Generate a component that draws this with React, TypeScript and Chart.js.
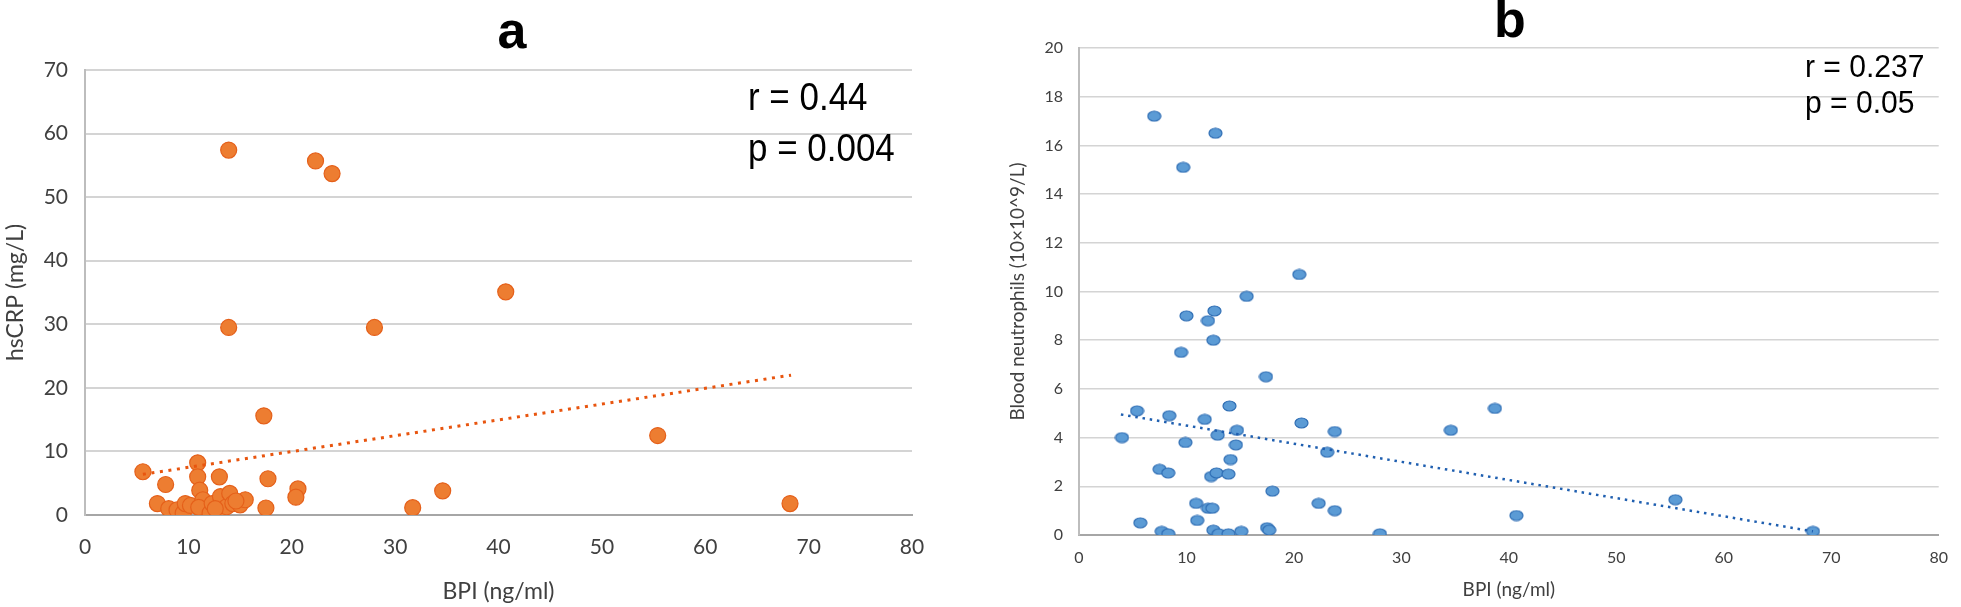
import React, { useEffect, useRef } from "react";
import { Chart, registerables } from "chart.js";

Chart.register(...registerables);

// ---------- Panel a data ----------
const bpiA = [5.6, 7.8, 7.0, 8.1, 8.9, 9.5, 9.7, 10.2, 10.9, 10.9, 11.1, 11.4, 11.0, 12.1, 12.3, 12.9, 13.0, 13.1, 13.7, 14.0, 14.3, 15.0, 15.5, 13.9, 13.9, 17.3, 17.7, 17.5, 20.6, 20.4, 22.3, 23.9, 28.0, 31.7, 34.6, 40.7, 55.4, 68.2, 14.6, 12.6];
const crpA = [6.8, 4.8, 1.8, 1.0, 0.8, 0.3, 1.8, 1.5, 8.2, 6.0, 3.9, 2.4, 1.2, 0.3, 1.8, 0.8, 6.0, 2.9, 1.3, 3.4, 1.8, 1.6, 2.4, 57.4, 29.5, 15.6, 5.7, 1.1, 4.1, 2.8, 55.7, 53.7, 29.5, 1.15, 3.8, 35.1, 12.5, 1.8, 2.2, 1.0];
const trendAX = [5.6, 68.3];
const trendAY = [6.4, 22.0];
const xTicksA = [0, 10, 20, 30, 40, 50, 60, 70, 80];
const yTicksA = [0, 10, 20, 30, 40, 50, 60, 70];

// ---------- Panel b data ----------
const bpiB = [7.0, 12.7, 9.7, 20.5, 15.6, 10.0, 12.6, 12.0, 12.5, 9.5, 17.4, 5.4, 8.4, 14.0, 11.7, 20.7, 4.0, 12.9, 14.7, 9.9, 14.6, 14.1, 7.5, 8.3, 12.3, 12.8, 13.9, 18.0, 10.9, 12.0, 12.4, 5.7, 11.0, 7.7, 8.3, 12.5, 13.0, 13.9, 15.1, 17.5, 17.7, 22.3, 23.8, 23.1, 23.8, 28.0, 34.6, 38.7, 40.7, 55.5, 68.3];
const neutB = [17.2, 16.5, 15.1, 10.7, 9.8, 9.0, 9.2, 8.8, 8.0, 7.5, 6.5, 5.1, 4.9, 5.3, 4.75, 4.6, 4.0, 4.1, 4.3, 3.8, 3.7, 3.1, 2.7, 2.55, 2.4, 2.55, 2.5, 1.8, 1.3, 1.1, 1.1, 0.5, 0.6, 0.15, 0.05, 0.2, 0.05, 0.05, 0.15, 0.3, 0.2, 1.3, 1.0, 3.4, 4.25, 0.05, 4.3, 5.2, 0.8, 1.45, 0.15];
const trendBX = [3.9, 68.3];
const trendBY = [4.95, 0.15];
const xTicksB = [0, 10, 20, 30, 40, 50, 60, 70, 80];
const yTicksB = [0, 2, 4, 6, 8, 10, 12, 14, 16, 18, 20];

const pts = (xs: number[], ys: number[]) => xs.map((x, i) => ({ x, y: ys[i] }));

function ellipseMarker(w: number, h: number, fill: string, stroke: string) {
  const c = document.createElement("canvas");
  c.width = w;
  c.height = h;
  const ctx = c.getContext("2d")!;
  ctx.beginPath();
  ctx.ellipse(w / 2, h / 2, w / 2 - 1, h / 2 - 1, 0, 0, Math.PI * 2);
  ctx.fillStyle = fill;
  ctx.fill();
  ctx.lineWidth = 1.2;
  ctx.strokeStyle = stroke;
  ctx.stroke();
  return c;
}

type TextItem = { text: string; x: number; y: number; font: string; align: CanvasTextAlign; scaleX?: number };

function textPlugin(items: TextItem[]) {
  return {
    id: "texts",
    afterDraw(chart: any) {
      const ctx = chart.ctx as CanvasRenderingContext2D;
      for (const it of items) {
        ctx.save();
        ctx.fillStyle = "#000";
        ctx.font = it.font;
        ctx.textAlign = it.align;
        ctx.textBaseline = "alphabetic";
        ctx.translate(it.x, it.y);
        ctx.scale(it.scaleX ?? 1, 1);
        ctx.fillText(it.text, 0, 0);
        ctx.restore();
      }
    },
  };
}

function makeConfig(opts: {
  data: { x: number; y: number }[];
  trend: { x: number; y: number }[];
  pointColor: string;
  pointBorder: string;
  pointRadius: number;
  pointStyle?: any;
  trendColor: string;
  trendWidth: number;
  trendDash: number[];
  xMax: number;
  yMax: number;
  xTicks: number[];
  yTicks: number[];
  tickFont: number;
  titleFont: number;
  xTitle: string;
  yTitle: string;
  yTitlePad: number;
  xTitlePadBottom: number;
  xTickPad: number;
  yTickPad: number;
  yWidth: number;
  xHeight: number;
  padding: { left: number; right: number; top: number; bottom: number };
  gridWidth: number;
  texts: TextItem[];
}) {
  const tickFontObj = { family: "Lato, 'Open Sans', sans-serif", size: opts.tickFont };
  const titleFontObj = { family: "Lato, 'Open Sans', sans-serif", size: opts.titleFont };
  return {
    type: "scatter" as const,
    data: {
      datasets: [
        {
          label: "trend",
          data: opts.trend,
          showLine: true,
          borderColor: opts.trendColor,
          borderWidth: opts.trendWidth,
          borderDash: opts.trendDash,
          borderCapStyle: "butt",
          pointRadius: 0,
          fill: false,
          order: 0,
        },
        {
          label: "data",
          data: opts.data,
          backgroundColor: opts.pointColor,
          borderColor: opts.pointBorder,
          borderWidth: 1.2,
          pointRadius: opts.pointRadius,
          pointStyle: opts.pointStyle ?? "circle",
          order: 1,
        },
      ],
    },
    options: {
      animation: false,
      responsive: false,
      layout: { padding: opts.padding },
      plugins: { legend: { display: false }, tooltip: { enabled: false }, title: { display: false } },
      scales: {
        x: {
          type: "linear",
          min: 0,
          max: opts.xMax,
          afterBuildTicks: (s: any) => {
            s.ticks = opts.xTicks.map((v) => ({ value: v }));
          },
          afterFit: (s: any) => {
            s.height = opts.xHeight;
          },
          grid: { display: false, drawTicks: false },
          border: { display: true, color: "#A6A6A6", width: 2 },
          ticks: { color: "#404040", font: tickFontObj, padding: opts.xTickPad, maxRotation: 0, autoSkip: false },
          title: {
            display: true,
            text: opts.xTitle,
            color: "#404040",
            font: titleFontObj,
            padding: { top: 0, bottom: opts.xTitlePadBottom },
          },
        },
        y: {
          type: "linear",
          min: 0,
          max: opts.yMax,
          afterBuildTicks: (s: any) => {
            s.ticks = opts.yTicks.map((v) => ({ value: v }));
          },
          afterFit: (s: any) => {
            s.width = opts.yWidth;
          },
          grid: {
            color: (c: any) => (c.tick && c.tick.value === 0 ? "#A6A6A6" : "#D4D4D4"),
            lineWidth: opts.gridWidth,
            drawTicks: false,
          },
          border: { display: true, color: "#BDBDBD", width: 2 },
          ticks: { color: "#404040", font: tickFontObj, padding: opts.yTickPad, autoSkip: false },
          title: {
            display: true,
            text: opts.yTitle,
            color: "#404040",
            font: titleFontObj,
            padding: { top: opts.yTitlePad, bottom: 0 },
          },
        },
      },
    },
    plugins: [textPlugin(opts.texts)],
  };
}

const A_LEFT = 0;
const A_W = 965;
const B_LEFT = 985;
const B_W = 1961 - 985;
const H = 607;

export default function App() {
  const refA = useRef<HTMLCanvasElement>(null);
  const refB = useRef<HTMLCanvasElement>(null);

  useEffect(() => {
    const cfgA = makeConfig({
      data: pts(bpiA, crpA),
      trend: pts(trendAX, trendAY),
      pointColor: "#ED7D31",
      pointBorder: "#E5601A",
      pointRadius: 8,
      trendColor: "#E8550F",
      trendWidth: 3,
      trendDash: [3, 5.6],
      xMax: 80,
      yMax: 70,
      xTicks: xTicksA,
      yTicks: yTicksA,
      tickFont: 21,
      titleFont: 23,
      xTitle: "BPI (ng/ml)",
      yTitle: "hsCRP (mg/L)",
      yTitlePad: 2,
      xTitlePadBottom: 2,
      xTickPad: 20,
      yTickPad: 17,
      yWidth: 85,
      xHeight: H - 515,
      padding: { left: 0, right: A_W - 912, top: 70, bottom: 0 },
      gridWidth: 2,
      texts: [
        { text: "a", x: 512, y: 48, font: "bold 52px 'Liberation Sans', Arial, sans-serif", align: "center" },
        { text: "r = 0.44", x: 748, y: 110, font: "38px 'Liberation Sans', Arial, sans-serif", align: "left", scaleX: 0.92 },
        { text: "p = 0.004", x: 748, y: 161, font: "38px 'Liberation Sans', Arial, sans-serif", align: "left", scaleX: 0.92 },
      ],
    });
    const marker = ellipseMarker(15, 12, "#5B9BD5", "#2E6DB4");
    const cfgB = makeConfig({
      data: pts(bpiB, neutB),
      trend: pts(trendBX, trendBY),
      pointColor: "#5B9BD5",
      pointBorder: "#2E6DB4",
      pointRadius: 6,
      pointStyle: marker,
      trendColor: "#1F5FB0",
      trendWidth: 2.5,
      trendDash: [2.5, 4.8],
      xMax: 80,
      yMax: 20,
      xTicks: xTicksB,
      yTicks: yTicksB,
      tickFont: 16,
      titleFont: 19,
      xTitle: "BPI (ng/ml)",
      yTitle: "Blood neutrophils (10×10^9/L)",
      yTitlePad: 21,
      xTitlePadBottom: 6,
      xTickPad: 13,
      yTickPad: 16,
      yWidth: 1079 - B_LEFT,
      xHeight: H - 535,
      padding: { left: 0, right: B_W - (1950 - B_LEFT), top: 48, bottom: 0 },
      gridWidth: 1.5,
      texts: [
        { text: "b", x: 1510 - B_LEFT, y: 37, font: "bold 52px 'Liberation Sans', Arial, sans-serif", align: "center" },
        { text: "r = 0.237", x: 1805 - B_LEFT, y: 77, font: "31px 'Liberation Sans', Arial, sans-serif", align: "left", scaleX: 0.97 },
        { text: "p = 0.05", x: 1805 - B_LEFT, y: 113, font: "31px 'Liberation Sans', Arial, sans-serif", align: "left", scaleX: 0.97 },
      ],
    });
    const ca = new Chart(refA.current!, cfgA as any);
    const cb = new Chart(refB.current!, cfgB as any);
    return () => {
      ca.destroy();
      cb.destroy();
    };
  }, []);

  return (
    <div style={{ position: "absolute", left: 0, top: 0, width: 1961, height: H, background: "#fff", overflow: "hidden" }}>
      <canvas ref={refA} width={A_W} height={H} style={{ position: "absolute", left: A_LEFT, top: 0, width: A_W, height: H }} />
      <canvas ref={refB} width={B_W} height={H} style={{ position: "absolute", left: B_LEFT, top: 0, width: B_W, height: H }} />
    </div>
  );
}
